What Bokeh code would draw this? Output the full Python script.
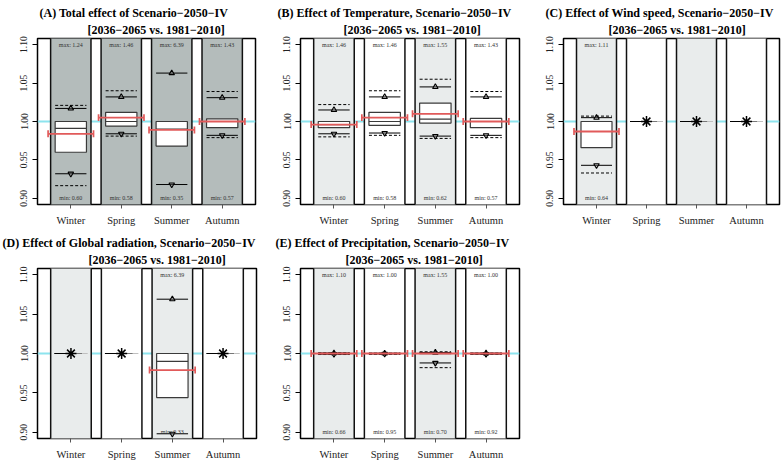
import math
from bokeh.plotting import figure
from bokeh.layouts import row, column
from bokeh.models import Range1d, FixedTicker, PrintfTickFormatter, Span, Label, Title
from bokeh.embed import file_html
from bokeh.resources import INLINE

NA = float("nan")
seasons = ["Winter", "Spring", "Summer", "Autumn"]
xpos = [1, 2, 3, 4]
yticks = [0.90, 0.95, 1.00, 1.05, 1.10]
subtitle = "[2036\u22122065 vs. 1981\u22122010]"

# ---------------- Panel A : total effect ----------------
A_title = "(A) Total effect of Scenario\u22122050\u2212IV"
A_q1 = [0.960, 0.994, 0.968, 0.992]
A_med = [0.991, 1.000, 0.990, 1.000]
A_q3 = [1.000, 1.012, 1.000, 1.0035]
A_up = [1.017, 1.032, 1.063, 1.031]
A_up2 = [1.021, 1.040, NA, 1.039]
A_dn = [0.932, 0.984, 0.918, 0.982]
A_dn2 = [0.9165, 0.981, NA, 0.979]
A_mean = [0.984, 1.005, 0.989, 1.000]
A_const = [False, False, False, False]
A_max = ["1.24", "1.46", "6.39", "1.43"]
A_min = ["0.60", "0.58", "0.35", "0.57"]

# ---------------- Panel B : temperature ----------------
B_title = "(B) Effect of Temperature, Scenario\u22122050\u2212IV"
B_q1 = [0.992, 0.995, 0.998, 0.992]
B_med = [0.996, 1.000, 1.003, 1.000]
B_q3 = [1.000, 1.012, 1.024, 1.004]
B_up = [1.015, 1.032, 1.045, 1.032]
B_up2 = [1.022, 1.040, 1.055, 1.039]
B_dn = [0.984, 0.985, 0.981, 0.982]
B_dn2 = [0.980, 0.982, 0.978, 0.979]
B_mean = [0.996, 1.005, 1.010, 1.000]
B_const = [False, False, False, False]
B_max = ["1.46", "1.46", "1.55", "1.43"]
B_min = ["0.60", "0.58", "0.62", "0.57"]

# ---------------- Panel C : wind speed ----------------
C_title = "(C) Effect of Wind speed, Scenario\u22122050\u2212IV"
C_q1 = [0.966, NA, NA, NA]
C_med = [1.000, NA, NA, NA]
C_q3 = [1.000, NA, NA, NA]
C_up = [1.005, NA, NA, NA]
C_up2 = [1.007, NA, NA, NA]
C_dn = [0.943, NA, NA, NA]
C_dn2 = [0.933, NA, NA, NA]
C_mean = [0.987, NA, NA, NA]
C_const = [False, True, True, True]
C_max = ["1.11", None, None, None]
C_min = ["0.64", None, None, None]

# ---------------- Panel D : global radiation ----------------
D_title = "(D) Effect of Global radiation, Scenario\u22122050\u2212IV"
D_q1 = [NA, NA, 0.944, NA]
D_med = [NA, NA, 0.990, NA]
D_q3 = [NA, NA, 1.000, NA]
D_up = [NA, NA, 1.069, NA]
D_up2 = [NA, NA, NA, NA]
D_dn = [NA, NA, 0.898, NA]
D_dn2 = [NA, NA, NA, NA]
D_mean = [NA, NA, 0.979, NA]
D_const = [True, True, False, True]
D_max = [None, None, "6.39", None]
D_min = [None, None, "0.33", None]

# ---------------- Panel E : precipitation ----------------
E_title = "(E) Effect of Precipitation, Scenario\u22122050\u2212IV"
E_q1 = [0.9995, 0.9998, 0.9998, 0.9997]
E_med = [1.000, 1.000, 1.000, 1.000]
E_q3 = [1.0003, 1.0002, 1.0010, 1.0003]
E_up = [1.0005, 1.0002, 1.0012, 1.0003]
E_up2 = [1.0008, 1.0004, 1.0022, 1.0005]
E_dn = [0.9993, 0.9995, 0.988, 0.9993]
E_dn2 = [0.9987, 0.9990, 0.982, 0.9990]
E_mean = [1.000, 1.000, 1.000, 1.000]
E_const = [False, False, False, False]
E_max = ["1.10", "1.00", "1.55", "1.00"]
E_min = ["0.66", "0.95", "0.70", "0.92"]

# ---------------- styling ----------------
SERIF = "Liberation Serif"
RED = "#e15a5a"
CYAN = "#8de4ee"
DARK = "#b4bcbb"
LIGHT = "#e9ecec"


def clean(vals, keep):
    xs, vs = [], []
    for x, v, k in zip(xpos, vals, keep):
        if k and v is not None and not (isinstance(v, float) and math.isnan(v)):
            xs.append(x)
            vs.append(v)
    return xs, vs


def label(fig, x, y, text, size, color="#333333"):
    fig.add_layout(Label(x=x, y=y, text=text, text_font=SERIF,
                         text_font_size=size, text_align="center",
                         text_baseline="middle", text_color=color))


def panel(title, q1, med, q3, up, up2, dn, dn2, mean, const, mx, mn,
          fills, W, H, bl, br, bt, bb, off1, off2):
    p = figure(width=W, height=H, x_range=Range1d(0.34, 4.66),
               y_range=Range1d(0.892, 1.108), output_backend="svg",
               toolbar_location=None, title=None, min_border_left=bl,
               min_border_right=br, min_border_top=bt, min_border_bottom=bb)
    # titles: the first one added sits next to the frame
    p.add_layout(Title(text=subtitle, align="left", offset=off2, standoff=3,
                       text_font=SERIF, text_font_size="12px",
                       text_font_style="bold", text_color="black"), "above")
    p.add_layout(Title(text=title, align="left", offset=off1, standoff=0,
                       text_font=SERIF, text_font_size="12px",
                       text_font_style="bold", text_color="black"), "above")

    p.xgrid.visible = False
    p.ygrid.visible = False
    p.outline_line_color = "black"
    p.outline_line_width = 1.5
    p.outline_line_alpha = 1.0
    p.background_fill_color = "white"
    p.border_fill_color = "white"

    p.add_layout(Span(location=1.0, dimension="width", line_color=CYAN,
                      line_width=2, level="underlay"))

    p.quad(left=[x - 0.4 for x in xpos], right=[x + 0.4 for x in xpos],
           bottom=0.85, top=1.15, fill_color=fills, line_color="#111111",
           line_width=1.5)

    nc = [not c for c in const]
    hw = 0.31
    xs, a = clean(q1, nc)
    _, b = clean(q3, nc)
    p.quad(left=[x - hw for x in xs], right=[x + hw for x in xs], bottom=a, top=b,
           fill_color="white", line_color="#3a3a3a", line_width=1.2)
    xs, m = clean(med, nc)
    p.segment(x0=[x - hw for x in xs], x1=[x + hw for x in xs], y0=m, y1=m,
              line_color="#3a3a3a", line_width=1.2)
    xs, u = clean(up, nc)
    p.segment(x0=[x - hw for x in xs], x1=[x + hw for x in xs], y0=u, y1=u,
              line_color="black", line_width=1)
    p.scatter(xs, u, marker="triangle", size=5.5, fill_color="#888888",
              fill_alpha=0.4, line_color="black", line_width=1.1)
    xs, d = clean(dn, nc)
    p.segment(x0=[x - hw for x in xs], x1=[x + hw for x in xs], y0=d, y1=d,
              line_color="black", line_width=1)
    p.scatter(xs, d, marker="inverted_triangle", size=5.5, fill_color="#888888",
              fill_alpha=0.4, line_color="black", line_width=1.1)
    xs, u2 = clean(up2, nc)
    p.segment(x0=[x - hw for x in xs], x1=[x + hw for x in xs], y0=u2, y1=u2,
              line_color="black", line_width=1, line_dash="3 2")
    xs, d2 = clean(dn2, nc)
    p.segment(x0=[x - hw for x in xs], x1=[x + hw for x in xs], y0=d2, y1=d2,
              line_color="black", line_width=1, line_dash="3 2")
    xs, mu = clean(mean, nc)
    rw = 0.45
    cap = 0.0045
    p.segment(x0=[x - rw for x in xs], x1=[x + rw for x in xs], y0=mu, y1=mu,
              line_color=RED, line_width=1.8)
    for s in (-1, 1):
        p.segment(x0=[x + s * rw for x in xs], x1=[x + s * rw for x in xs],
                  y0=[v - cap for v in mu], y1=[v + cap for v in mu],
                  line_color=RED, line_width=1.7)
    xs, one = clean([1.0] * 4, const)
    p.segment(x0=[x - 0.33 for x in xs], x1=[x + 0.10 for x in xs], y0=one, y1=one,
              line_color="black", line_width=1.1)
    p.segment(x0=[x + 0.10 for x in xs], x1=[x + 0.22 for x in xs], y0=one, y1=one,
              line_color="#777777", line_width=1.1)
    p.segment(x0=[x + 0.22 for x in xs], x1=[x + 0.33 for x in xs], y0=one, y1=one,
              line_color="#c0c0c0", line_width=1.1)
    p.scatter(xs, one, marker="asterisk", size=11, line_color="black",
              line_width=1.5)
    xs, tx = clean(mx, [v is not None for v in mx])
    for x, v in zip(xs, tx):
        label(p, x, yticks[-1], "max: " + v, "6px")
    xs, tx = clean(mn, [v is not None for v in mn])
    for x, v in zip(xs, tx):
        label(p, x, yticks[0], "min: " + v, "6px")

    p.xaxis.ticker = FixedTicker(ticks=xpos)
    p.xaxis.major_label_overrides = {x: s for x, s in zip(xpos, seasons)}
    p.yaxis.ticker = FixedTicker(ticks=yticks)
    p.yaxis.formatter = PrintfTickFormatter(format="%.2f")
    p.yaxis.major_label_orientation = "vertical"
    for ax in (p.xaxis[0], p.yaxis[0]):
        ax.axis_line_color = None
        ax.minor_tick_line_color = None
        ax.major_tick_in = 0
        ax.major_label_text_font = SERIF
        ax.major_label_text_color = "#222222"
    p.xaxis.major_tick_out = 4
    p.xaxis.major_tick_line_color = "#555555"
    p.xaxis.major_label_standoff = 6
    p.xaxis.major_label_text_font_size = "10.5px"
    p.yaxis.major_tick_out = 5
    p.yaxis.major_tick_line_color = "black"
    p.yaxis.major_label_standoff = 5
    p.yaxis.major_label_text_font_size = "9.5px"
    return p


SH = [LIGHT, "white", LIGHT, "white"]
pA = panel(A_title, A_q1, A_med, A_q3, A_up, A_up2, A_dn, A_dn2, A_mean,
           A_const, A_max, A_min, [DARK] * 4, 262, 230, 37, 7, 38, 26, 2, 50)
pB = panel(B_title, B_q1, B_med, B_q3, B_up, B_up2, B_dn, B_dn2, B_mean,
           B_const, B_max, B_min, SH, 262, 230, 38, 5, 38, 26, -23, 43)
pC = panel(C_title, C_q1, C_med, C_q3, C_up, C_up2, C_dn, C_dn2, C_mean,
           C_const, C_max, C_min, SH, 260, 230, 39, 5, 38, 26, -18, 45)
pD = panel(D_title, D_q1, D_med, D_q3, D_up, D_up2, D_dn, D_dn2, D_mean,
           D_const, D_max, D_min, SH, 262, 232, 37, 6, 38, 22, -35, 51)
pE = panel(E_title, E_q1, E_med, E_q3, E_up, E_up2, E_dn, E_dn2, E_mean,
           E_const, E_max, E_min, SH, 262, 232, 38, 5, 38, 22, -25, 45)

layout = column(row(pA, pB, pC, spacing=0), row(pD, pE, spacing=0), spacing=0)
open("out.html", "w").write(file_html(layout, INLINE))
